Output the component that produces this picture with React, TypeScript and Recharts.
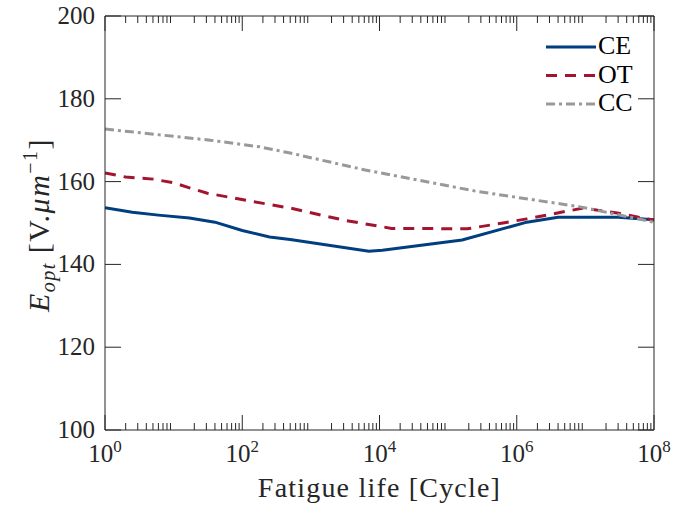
import { LineChart, Line, XAxis, YAxis, Legend, Label } from 'recharts'

const ceCycles = [1, 2.5, 6, 17, 40, 100, 250, 500, 7000, 11000, 160000, 1.4e6, 4e6, 3e7, 1e8]
const ceValues = [153.7, 152.6, 151.9, 151.2, 150.2, 148.2, 146.6, 146.0, 143.2, 143.4, 145.9, 150.2, 151.4, 151.4, 150.8]

const otCycles = [1, 2, 5, 10, 17, 31, 130, 500, 3000, 15000, 190000, 630000, 1.4e6, 4.8e6, 9.3e6, 2.9e7, 1e8]
const otValues = [162.1, 161.1, 160.6, 159.7, 158.5, 157.2, 155.3, 153.6, 150.7, 148.7, 148.6, 150.0, 151.0, 152.7, 153.6, 152.4, 150.7]

const ccCycles = [1, 34, 180, 500, 6200, 250000, 8.4e6, 1e8]
const ccValues = [172.7, 170.0, 168.4, 166.9, 162.8, 157.7, 153.9, 150.2]

const majorTicks = [1, 1e2, 1e4, 1e6, 1e8]
const yTicks = [100, 120, 140, 160, 180, 200]

// minor log ticks: 2..9 times every decade
const decades = [1, 1e1, 1e2, 1e3, 1e4, 1e5, 1e6, 1e7]
const minorTicks = decades.flatMap((d) => [2, 3, 4, 5, 6, 7, 8, 9].map((m) => m * d))
const xTicks = [...majorTicks, ...minorTicks].sort((a, b) => a - b)

const toPoints = (xs: number[], ys: number[]) => xs.map((x, i) => ({ x, y: ys[i] }))

const series = [
  { name: 'CE', data: toPoints(ceCycles, ceValues), color: '#003F7F', dash: undefined },
  { name: 'OT', data: toPoints(otCycles, otValues), color: '#A2142F', dash: '11 8' },
  { name: 'CC', data: toPoints(ccCycles, ccValues), color: '#999999', dash: '9 4 3 4' },
]

const font = "'Liberation Serif', 'Times New Roman', 'DejaVu Serif', serif"
const ink = '#262626'

function XTick(props: any) {
  const { x, y, payload, side } = props
  const v = payload.value
  const major = majorTicks.includes(v)
  const len = major ? 15 : 7
  const dir = side === 'bottom' ? -1 : 1
  return (
    <g>
      <line x1={x} x2={x} y1={y} y2={y + dir * len} stroke={ink} strokeWidth={1} />
      {major && side === 'bottom' && (
        <text x={x} y={y + 32} textAnchor="middle" style={{ fontFamily: font }} fontSize={25} fill={ink}>
          <tspan>10</tspan>
          <tspan dy={-10} fontSize={17}>{Math.round(Math.log10(v))}</tspan>
        </text>
      )}
    </g>
  )
}

function YTick(props: any) {
  const { x, y, payload, side } = props
  const dir = side === 'left' ? 1 : -1
  return (
    <g>
      <line x1={x} x2={x + dir * 16} y1={y} y2={y} stroke={ink} strokeWidth={1} />
      {side === 'left' && (
        <text x={x - 10} y={y + 8} textAnchor="end" style={{ fontFamily: font }} fontSize={25} fill={ink}>
          {payload.value}
        </text>
      )}
    </g>
  )
}

function LegendBox() {
  return (
    <svg width={140} height={90}>
      {series.map((s, i) => {
        const cy = 17 + i * 28.5
        return (
          <g key={s.name}>
            <line x1={6} x2={56} y1={cy} y2={cy} stroke={s.color} strokeWidth={3} strokeDasharray={s.dash} />
            <text x={58} y={cy + 7} style={{ fontFamily: font }} fontSize={26} fill="#000">
              {s.name}
            </text>
          </g>
        )
      })}
    </svg>
  )
}

function YTitle({ viewBox }: any) {
  const cx = 49
  const cy = viewBox.y + viewBox.height / 2 + 2
  return (
    <text
      x={cx}
      y={cy}
      transform={`rotate(-90 ${cx} ${cy})`}
      textAnchor="middle"
      style={{ fontFamily: font }}
      fontSize={30}
      letterSpacing={1.5}
      fill={ink}
    >
      <tspan fontStyle="italic">E</tspan>
      <tspan fontStyle="italic" fontSize={20} dy={6}>opt</tspan>
      <tspan dy={-6}> [V.</tspan>
      <tspan fontStyle="italic">μm</tspan>
      <tspan fontSize={20} dy={-12}>−1</tspan>
      <tspan dy={12}>]</tspan>
    </text>
  )
}

function XTitle({ viewBox }: any) {
  return (
    <text
      x={viewBox.x + viewBox.width / 2}
      y={viewBox.y + 67}
      textAnchor="middle"
      style={{ fontFamily: font }}
      fontSize={28}
      letterSpacing={1.2}
      fill={ink}
    >
      Fatigue life [Cycle]
    </text>
  )
}

export default function App() {
  return (
    <div style={{ position: 'fixed', left: 0, top: 0, background: '#fff' }}>
      <LineChart width={688} height={510} margin={{ top: 0, right: 0, bottom: 0, left: 0 }}>
        <XAxis
          xAxisId="b"
          orientation="bottom"
          dataKey="x"
          type="number"
          scale="log"
          domain={[1, 1e8]}
          allowDataOverflow
          ticks={xTicks}
          interval={0}
          height={80}
          tickSize={0}
          tickMargin={0}
          tickLine={false}
          axisLine={{ stroke: ink, strokeWidth: 1 }}
          tick={<XTick side="bottom" />}
        >
          <Label content={<XTitle />} />
        </XAxis>
        <XAxis
          xAxisId="t"
          orientation="top"
          dataKey="x"
          type="number"
          scale="log"
          domain={[1, 1e8]}
          allowDataOverflow
          ticks={xTicks}
          interval={0}
          height={16}
          tickSize={0}
          tickMargin={0}
          tickLine={false}
          axisLine={{ stroke: ink, strokeWidth: 1 }}
          tick={<XTick side="top" />}
        />
        <YAxis
          yAxisId="l"
          orientation="left"
          type="number"
          domain={[100, 200]}
          allowDataOverflow
          ticks={yTicks}
          interval={0}
          width={105}
          tickSize={0}
          tickMargin={0}
          tickLine={false}
          axisLine={{ stroke: ink, strokeWidth: 1 }}
          tick={<YTick side="left" />}
        >
          <Label content={<YTitle />} />
        </YAxis>
        <YAxis
          yAxisId="r"
          orientation="right"
          type="number"
          domain={[100, 200]}
          allowDataOverflow
          ticks={yTicks}
          interval={0}
          width={34}
          tickSize={0}
          tickMargin={0}
          tickLine={false}
          axisLine={{ stroke: ink, strokeWidth: 1 }}
          tick={<YTick side="right" />}
        />
        {series.map((s) => (
          <Line
            key={s.name}
            xAxisId="b"
            yAxisId="l"
            data={s.data}
            dataKey="y"
            name={s.name}
            type="linear"
            stroke={s.color}
            strokeWidth={3}
            strokeDasharray={s.dash}
            dot={false}
            isAnimationActive={false}
          />
        ))}
        <Legend
          layout="horizontal"
          verticalAlign="middle"
          align="center"
          content={<LegendBox />}
          wrapperStyle={{ position: 'absolute', left: 540, top: 30, width: 140, height: 90 }}
        />
      </LineChart>
    </div>
  )
}
